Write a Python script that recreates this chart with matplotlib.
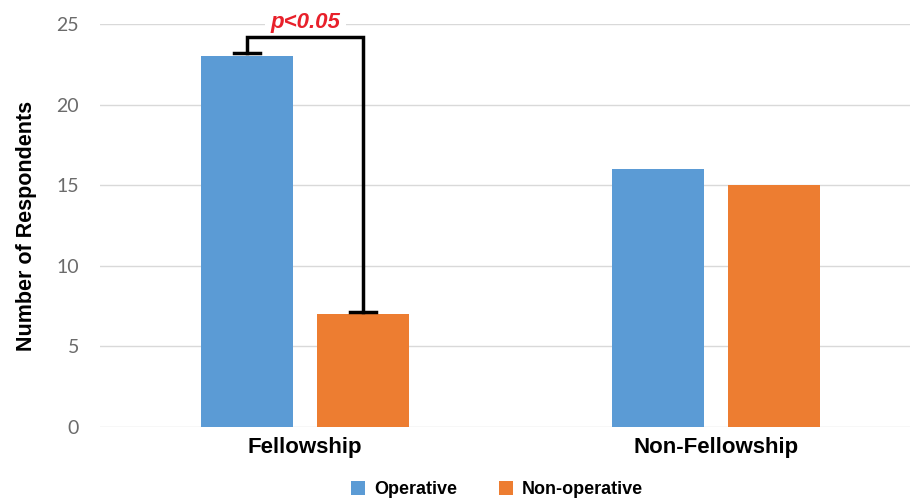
import numpy as np
import matplotlib
matplotlib.use("Agg")
import matplotlib.pyplot as plt

plt.rcParams["font.family"] = ["Liberation Sans", "DejaVu Sans"]

# data
categories = ["Fellowship", "Non-Fellowship"]
operative = [23, 16]
non_operative = [7, 15]
series_labels = ["Operative", "Non-operative"]
y_ticks = [0, 5, 10, 15, 20, 25]
sig_text = "p<0.05"

BLUE = "#5B9BD5"
ORANGE = "#ED7D31"

fig = plt.figure(figsize=(9.1, 4.98), dpi=100)
ax = fig.add_axes([100 / 910, 71 / 498, 810 / 910, 403 / 498])

x = np.arange(len(categories))
w = 0.224
off = 0.141
ax.bar(x - off, operative, w, color=BLUE, label=series_labels[0], zorder=3)
ax.bar(x + off, non_operative, w, color=ORANGE, label=series_labels[1], zorder=3)

ax.set_xlim(-0.499, 1.472)
ax.set_ylim(0, 25)
ax.set_yticks(y_ticks)
ax.grid(axis="y", color="#d9d9d9", linewidth=1, zorder=0)
ax.set_axisbelow(True)
for s in ax.spines.values():
    s.set_visible(False)
ax.tick_params(axis="y", length=0, pad=15, labelcolor="#6b6b6b")
for lab in ax.get_yticklabels():
    lab.set_fontfamily("Lato")
    lab.set_fontsize(14)
ax.tick_params(axis="x", length=0, pad=7)
ax.set_xticks(x)
ax.set_xticklabels(categories, fontsize=16, fontweight="bold")
ax.set_ylabel("Number of Respondents", fontsize=15.5, fontweight="bold", labelpad=14)

# significance bracket
x1, x2 = x[0] - off, x[0] + off
top = 24.2
y1, y2 = operative[0] + 0.2, non_operative[0] + 0.15
ax.plot([x1, x1, x2, x2], [y1, top, top, y2], color="black", linewidth=2.5, zorder=6,
        solid_joinstyle="miter")
cap = 0.032
ax.plot([x1 - cap, x1 + cap], [y1, y1], color="black", linewidth=2.5, zorder=6)
ax.plot([x2 - cap, x2 + cap], [y2, y2], color="black", linewidth=2.5, zorder=6)
ax.text(x[0], 25.12, sig_text, color="#E8202A", fontsize=16, fontweight="bold",
        fontstyle="italic", ha="center", va="center", zorder=5,
        bbox=dict(facecolor="white", edgecolor="none", pad=4))

ax.legend(loc="center", bbox_to_anchor=(0.49, -0.155), ncol=2, frameon=False,
          handlelength=0.8, handleheight=0.8, columnspacing=2.3, handletextpad=0.5,
          prop={"weight": "bold", "size": 13})

fig.savefig("out.png", dpi=100)
